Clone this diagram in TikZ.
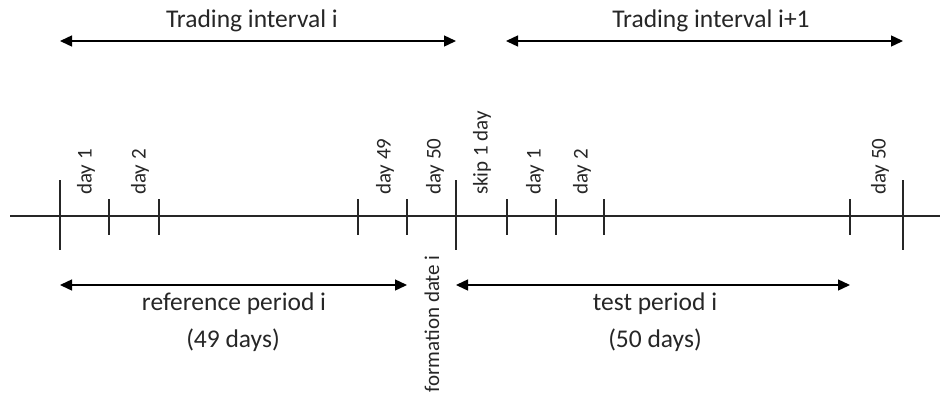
\documentclass[tikz,border=0pt]{standalone}
\usepackage{fontspec}
\setmainfont{Carlito}
\usetikzlibrary{arrows.meta}
\begin{document}
\begin{tikzpicture}[x=1pt,y=-1pt,
  axis/.style={line width=1.3pt,draw=black!85},
  tickmark/.style={line width=1.3pt,draw=black!85},
  span/.style={line width=1.4pt,draw=black,{Triangle[length=12pt,width=11pt]}-{Triangle[length=12pt,width=11pt]}},
  biglabel/.style={inner sep=0pt,font=\fontsize{25.5}{30}\selectfont,text=black!85},
  daylabel/.style={inner sep=0pt,rotate=90,anchor=west,font=\fontsize{21}{25}\selectfont,text=black!85}]
\useasboundingbox (0,0) rectangle (940,394);
% axis
\coordinate (L) at (10,216);
\coordinate (R) at (940,216);
\draw[axis] (L) -- (R);
% long ticks
\foreach \n/\x in {A/60,F/456,K/903}{
  \coordinate (\n t) at (\x,180);
  \coordinate (\n b) at (\x,250);
  \coordinate (\n) at (\x,216);
  \draw[tickmark] (\n t) -- (\n b);
}
% short ticks
\foreach \n/\x in {B/109,C/159,D/358,E/407,G/507,H/556,I/604,J/850}{
  \coordinate (\n t) at (\x,199);
  \coordinate (\n b) at (\x,235);
  \coordinate (\n) at (\x,216);
  \draw[tickmark] (\n t) -- (\n b);
}
% day labels
\node[daylabel] (d1) at (86,195) {day 1};
\node[daylabel] (d2) at (140,195) {day 2};
\node[daylabel] (d49) at (385,195) {day 49};
\node[daylabel] (d50) at (435,195) {day 50};
\node[daylabel] (skip) at (482,195) {skip 1 day};
\node[daylabel] (e1) at (535,195) {day 1};
\node[daylabel] (e2) at (582,195) {day 2};
\node[daylabel] (e50) at (880,195) {day 50};
\node[inner sep=0pt,rotate=90,anchor=east,font=\fontsize{21}{25}\selectfont,text=black!85] (form) at (432,255) {formation date i};
% top arrows
\coordinate (T1a) at (60,41);
\coordinate (T1b) at (456,41);
\coordinate (T2a) at (506,41);
\coordinate (T2b) at (903,41);
\draw[span] (T1a) -- (T1b);
\draw[span] (T2a) -- (T2b);
\node[biglabel] (ti) at (252,21) {Trading interval i};
\node[biglabel] (ti1) at (711,21) {Trading interval i+1};
% bottom arrows
\coordinate (B1a) at (60,285);
\coordinate (B1b) at (407,285);
\coordinate (B2a) at (456,285);
\coordinate (B2b) at (850,285);
\draw[span] (B1a) -- (B1b);
\draw[span] (B2a) -- (B2b);
\node[biglabel] (ref) at (234,304) {reference period i};
\node[biglabel] (ref2) at (233,340) {(49 days)};
\node[biglabel] (test) at (655,304) {test period i};
\node[biglabel] (test2) at (655,340) {(50 days)};
\end{tikzpicture}
\end{document}
